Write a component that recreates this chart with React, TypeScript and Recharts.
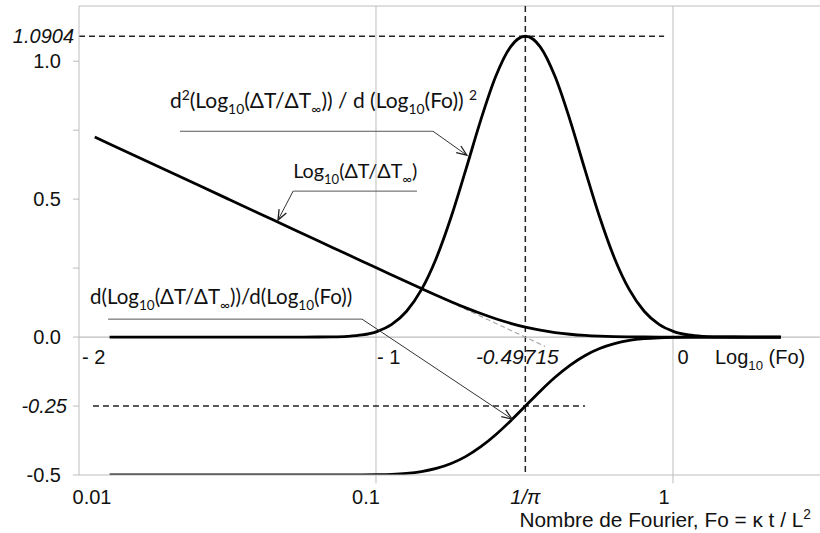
import React from "react";
import { LineChart, Line, XAxis, YAxis, ReferenceLine, ReferenceDot } from "recharts";

// log10(Fo) sample positions
const logFo = [
  -1.947, -1.897, -1.697, -1.497, -1.397, -1.297, -1.197, -1.147, -1.097, -1.047,
  -0.997, -0.947, -0.897, -0.847, -0.797, -0.747, -0.697, -0.647, -0.597, -0.547,
  -0.497, -0.447, -0.397, -0.347, -0.297, -0.247, -0.197, -0.147, -0.097, -0.047,
  0.003, 0.053, 0.103, 0.153, 0.203, 0.303, 0.363,
];

// Log10(dT/dTinf)
const logRatio = [
  0.725, 0.7, 0.6, 0.5, 0.45, 0.4, 0.35, 0.325, 0.3, 0.275,
  0.25, 0.2251, 0.2003, 0.1758, 0.1516, 0.1282, 0.1059, 0.0852, 0.0663, 0.0499,
  0.036, 0.0249, 0.0163, 0.0102, 0.0059, 0.0032, 0.0016, 0.0008, 0.0003, 0.0001,
  0, 0, 0, 0, 0, 0, 0,
];

// first derivative vs log10(Fo)
const firstDeriv = [
  null, -0.5, -0.5, -0.5, -0.5, -0.5, -0.5, -0.5, -0.4999, -0.4997,
  -0.499, -0.4975, -0.4941, -0.4876, -0.4763, -0.4584, -0.4324, -0.3975, -0.3541, -0.3039,
  -0.25, -0.1961, -0.1459, -0.1025, -0.0676, -0.0416, -0.0237, -0.0124, -0.0059, -0.0025,
  -0.001, -0.0003, -0.0001, 0, 0, 0, 0,
];

// second derivative vs log10(Fo)
const secondDeriv = [
  null, 0, 0, 0, 0, 0, 0.0002, 0.0007, 0.0025, 0.0075,
  0.0198, 0.0457, 0.0935, 0.1717, 0.2859, 0.435, 0.6087, 0.7873, 0.9442, 1.0521,
  1.0904, 1.0521, 0.9442, 0.7873, 0.6087, 0.435, 0.2859, 0.1717, 0.0935, 0.0457,
  0.0198, 0.0075, 0.0025, 0.0007, 0.0002, 0, 0,
];

// short-time asymptote (grey dashed)
const asymX = [-0.85, -0.43];
const asymY = [0.177, -0.034];

const xTickValues = [-2, -1, -0.49715, 0];
const xTickLabels = ["0.01", "0.1", "1/\u03c0", "1"];
const innerXLabels = ["- 2", "- 1", "-0.49715", "0"];

const yTickValues = [-0.5, -0.25, 0, 0.25, 0.5, 0.75, 1, 1.0904];
const yTickLabels = ["-0.5", "-0.25", "0.0", "", "0.5", "", "1.0", "1.0904"];

const rows = logFo.map((x, i) => ({
  x,
  f: logRatio[i],
  g: firstDeriv[i],
  h: secondDeriv[i],
}));

const GRID = "#bdbdbd";
const INK = "#111";
const AXIS_FONT = "'Liberation Sans', Arial, sans-serif";
const NOTE_FONT = "Lato, 'Open Sans', sans-serif";

type Part = { t: string; s?: "sub" | "sup" };

const RichText = ({ x, y, parts, size, family, anchor = "start", italic = false }: any) => {
  let level = 0;
  return (
    <text
      x={x}
      y={y}
      fontSize={size}
      fontFamily={family}
      fill={INK}
      textAnchor={anchor}
      fontStyle={italic ? "italic" : "normal"}
    >
      {parts.map((p: Part, i: number) => {
        const target = p.s === "sub" ? size * 0.3 : p.s === "sup" ? -size * 0.38 : 0;
        const dy = target - level;
        level = target;
        return (
          <tspan key={i} dy={dy} fontSize={p.s ? size * 0.66 : size}>
            {p.t}
          </tspan>
        );
      })}
    </text>
  );
};

const noteSecond: Part[] = [
  { t: "d" }, { t: "2", s: "sup" }, { t: "(Log" }, { t: "10", s: "sub" },
  { t: "(\u0394T/\u0394T" }, { t: "\u221e", s: "sub" }, { t: ")) / d (Log" },
  { t: "10", s: "sub" }, { t: "(Fo)) " }, { t: "2", s: "sup" },
];
const noteLog: Part[] = [
  { t: "Log" }, { t: "10", s: "sub" }, { t: "(\u0394T/\u0394T" }, { t: "\u221e", s: "sub" }, { t: ")" },
];
const noteFirst: Part[] = [
  { t: "d(Log" }, { t: "10", s: "sub" }, { t: "(\u0394T/\u0394T" }, { t: "\u221e", s: "sub" },
  { t: "))/d(Log" }, { t: "10", s: "sub" }, { t: "(Fo))" },
];

const notes = [
  { x: -1.694, y: 0.83, parts: noteSecond, size: 21 },
  { x: -1.279, y: 0.576, parts: noteLog, size: 19.8 },
  { x: -1.963, y: 0.12, parts: noteFirst, size: 20.5 },
];

const leaders = [
  [[-1.66, 0.746], [-0.808, 0.746], [-0.694, 0.659]],
  [[-0.862, 0.529], [-1.279, 0.529], [-1.33, 0.424]],
  [[-1.902, 0.065], [-1.047, 0.065], [-0.542, -0.297]],
];

const ArrowLine = (p: any) => {
  const { x1, y1, x2, y2 } = p;
  const a = Math.atan2(y2 - y1, x2 - x1);
  const len = 11;
  const spread = 0.38;
  const ax = x2 - len * Math.cos(a - spread);
  const ay = y2 - len * Math.sin(a - spread);
  const bx = x2 - len * Math.cos(a + spread);
  const by = y2 - len * Math.sin(a + spread);
  return (
    <g>
      <line x1={x1} y1={y1} x2={x2} y2={y2} stroke="#333" strokeWidth={1} />
      <polyline points={`${ax},${ay} ${x2},${y2} ${bx},${by}`} fill="none" stroke="#222" strokeWidth={1.3} />
    </g>
  );
};

const YTick = ({ x, y, payload }: any) => {
  const v = payload.value;
  const i = yTickValues.indexOf(v);
  const label = yTickLabels[i];
  const italic = v === -0.25 || v === 1.0904;
  const off = v === 1.0904 ? 5 : v === -0.25 ? 12 : 18;
  return (
    <g>
      {v !== 1.0904 && <line x1={x - 6} x2={x} y1={y} y2={y} stroke={GRID} />}
      {label && (
        <text
          x={x - off}
          y={y}
          dy="0.36em"
          textAnchor="end"
          fontSize={20}
          fontFamily={AXIS_FONT}
          fontStyle={italic ? "italic" : "normal"}
          fill={INK}
        >
          {label}
        </text>
      )}
    </g>
  );
};

const xTickShift = [13, -10, 0, -9];

const XTick = ({ x, y, payload }: any) => {
  const i = xTickValues.indexOf(payload.value);
  return (
    <text
      x={x + xTickShift[i]}
      y={y + 29}
      textAnchor="middle"
      fontSize={20}
      fontFamily={AXIS_FONT}
      fontStyle={i === 2 ? "italic" : "normal"}
      fill={INK}
    >
      {xTickLabels[i]}
    </text>
  );
};

const innerShift = [3, 1, -8, 10];
const innerAnchor = ["start", "start", "middle", "middle"];

export default function App() {
  return (
    <div style={{ position: "absolute", left: 0, top: 0, width: 820, height: 533, background: "#fff" }}>
      <LineChart width={820} height={533} data={rows} margin={{ top: 6, right: 0, bottom: 0, left: 0 }}>
        <XAxis
          dataKey="x"
          type="number"
          domain={[-2, 0.495]}
          ticks={xTickValues}
          interval={0}
          tickLine={false}
          tickSize={0}
          tickMargin={0}
          height={58}
          axisLine={{ stroke: GRID }}
          tick={<XTick />}
          allowDataOverflow
        />
        <YAxis
          type="number"
          domain={[-0.5, 1.2]}
          ticks={yTickValues}
          interval={0}
          tickLine={false}
          tickSize={0}
          tickMargin={0}
          width={79}
          axisLine={{ stroke: GRID }}
          tick={<YTick />}
          allowDataOverflow
        />

        {/* frame and grid */}
        <ReferenceLine y={1.2} stroke={GRID} strokeWidth={1.2} />
        <ReferenceLine y={0} stroke={GRID} strokeWidth={1.2} />
        <ReferenceLine
          segment={[{ x: -1, y: 1.2 }, { x: -1, y: -0.53 }]}
          stroke={GRID}
          ifOverflow="visible"
        />
        <ReferenceLine
          segment={[{ x: 0, y: 1.2 }, { x: 0, y: -0.53 }]}
          stroke={GRID}
          ifOverflow="visible"
        />

        {/* dashed markers */}
        <ReferenceLine
          segment={[{ x: -2, y: 1.0904 }, { x: -0.03, y: 1.0904 }]}
          stroke="#222"
          strokeWidth={1.5}
          strokeDasharray="6 4"
        />
        <ReferenceLine
          segment={[{ x: -1.953, y: -0.25 }, { x: -0.296, y: -0.25 }]}
          stroke="#222"
          strokeWidth={1.5}
          strokeDasharray="6 4"
        />
        <ReferenceLine
          segment={[{ x: -0.49715, y: 1.2 }, { x: -0.49715, y: -0.5 }]}
          stroke="#222"
          strokeWidth={1.5}
          strokeDasharray="6 4"
        />
        <ReferenceLine
          segment={[{ x: asymX[0], y: asymY[0] }, { x: asymX[1], y: asymY[1] }]}
          stroke="#aaa"
          strokeWidth={1.2}
          strokeDasharray="5 3"
        />

        <Line type="monotone" dataKey="f" stroke="#000" strokeWidth={2.8} dot={false} activeDot={false} isAnimationActive={false} />
        <Line type="monotone" dataKey="g" stroke="#000" strokeWidth={2.8} dot={false} activeDot={false} isAnimationActive={false} />
        <Line type="monotone" dataKey="h" stroke="#000" strokeWidth={2.8} dot={false} activeDot={false} isAnimationActive={false} />

        {/* leader lines */}
        {leaders.map((pts, k) => (
          <ReferenceLine
            key={`h${k}`}
            segment={[{ x: pts[0][0], y: pts[0][1] }, { x: pts[1][0], y: pts[1][1] }]}
            stroke="#555"
            strokeWidth={1}
          />
        ))}
        {leaders.map((pts, k) => (
          <ReferenceLine
            key={`d${k}`}
            segment={[{ x: pts[1][0], y: pts[1][1] }, { x: pts[2][0], y: pts[2][1] }]}
            shape={ArrowLine}
          />
        ))}

        {/* curve labels */}
        {notes.map((n, k) => (
          <ReferenceDot
            key={`n${k}`}
            x={n.x}
            y={n.y}
            r={0}
            ifOverflow="visible"
            shape={(p: any) => (
              <RichText x={p.cx} y={p.cy} parts={n.parts} size={n.size} family={NOTE_FONT} />
            )}
          />
        ))}

        {/* axis labels written along y = 0 */}
        {xTickValues.map((v, k) => (
          <ReferenceDot
            key={`i${k}`}
            x={v}
            y={0}
            r={0}
            ifOverflow="visible"
            shape={(p: any) => (
              <text
                x={p.cx + innerShift[k]}
                y={p.cy + 27}
                textAnchor={innerAnchor[k]}
                fontSize={k === 2 ? 21 : 20}
                fontFamily={AXIS_FONT}
                fontStyle={k === 2 ? "italic" : "normal"}
                fill={INK}
              >
                {innerXLabels[k]}
              </text>
            )}
          />
        ))}
        <ReferenceDot
          x={0}
          y={0}
          r={0}
          ifOverflow="visible"
          shape={(p: any) => (
            <RichText
              x={p.cx + 42}
              y={p.cy + 27}
              parts={[{ t: "Log" }, { t: "10", s: "sub" }, { t: " (Fo)" }]}
              size={20}
              family={AXIS_FONT}
            />
          )}
        />
        <ReferenceDot
          x={-0.5}
          y={-0.5}
          r={0}
          ifOverflow="visible"
          shape={(p: any) => (
            <RichText
              x={p.cx - 5}
              y={p.cy + 52}
              parts={[{ t: "Nombre de Fourier, Fo = \u03ba t / L" }, { t: "2", s: "sup" }]}
              size={20.8}
              family={AXIS_FONT}
            />
          )}
        />
      </LineChart>
    </div>
  );
}
